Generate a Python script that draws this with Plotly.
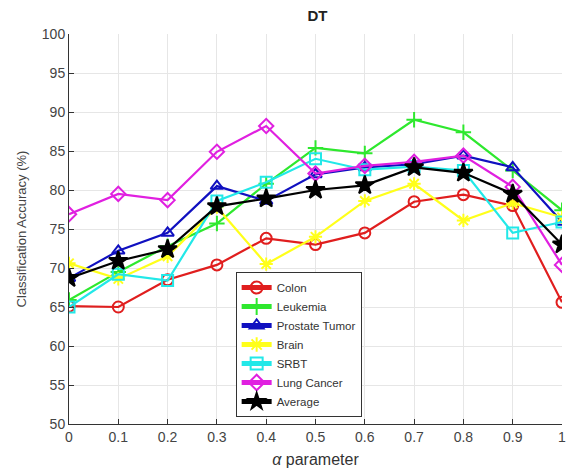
import plotly.graph_objects as go

alpha = [0, 0.1, 0.2, 0.3, 0.4, 0.5, 0.6, 0.7, 0.8, 0.9, 1.0]
colon = [65.1, 65.0, 68.5, 70.4, 73.8, 73.0, 74.5, 78.5, 79.4, 78.0, 65.6]
leukemia = [65.9, 69.5, 72.8, 75.7, 80.8, 85.4, 84.7, 89.0, 87.4, 82.5, 77.4]
prostate = [68.7, 72.2, 74.5, 80.5, 78.6, 82.0, 82.9, 83.3, 84.4, 82.9, 75.9]
brain = [70.6, 68.6, 71.5, 77.8, 70.5, 74.0, 78.6, 80.8, 76.1, 78.3, 76.5]
srbt = [65.0, 69.2, 68.4, 78.6, 81.0, 84.0, 82.6, 83.0, 82.5, 74.5, 75.9]
lung = [76.9, 79.5, 78.7, 84.9, 88.2, 82.1, 83.1, 83.6, 84.4, 80.4, 70.4]
average = [68.7, 70.9, 72.4, 77.9, 78.9, 80.0, 80.6, 82.9, 82.2, 79.5, 73.0]

x_ticks = [0, 0.1, 0.2, 0.3, 0.4, 0.5, 0.6, 0.7, 0.8, 0.9, 1]
x_labels = ["0", "0.1", "0.2", "0.3", "0.4", "0.5", "0.6", "0.7", "0.8", "0.9", "1"]
y_ticks = [50, 55, 60, 65, 70, 75, 80, 85, 90, 95, 100]

series = [
    ("Colon", colon, "#e01e1e", "circle-open"),
    ("Leukemia", leukemia, "#2ee82e", "cross-thin-open"),
    ("Prostate Tumor", prostate, "#1010c0", "triangle-up-open"),
    ("Brain", brain, "#ffff1a", "asterisk-open"),
    ("SRBT", srbt, "#22e8e8", "square-open"),
    ("Lung Cancer", lung, "#e020e0", "diamond-open"),
    ("Average", average, "#000000", "star"),
]

fig = go.Figure()
for name, vals, color, sym in series:
    fig.add_trace(go.Scatter(
        x=alpha, y=vals, name=name, mode="lines+markers",
        line=dict(color=color, width=2.2),
        marker=dict(symbol=sym, size=11 if sym != "star" else 14,
                    color=color, line=dict(color=color, width=2)),
    ))

fig.update_layout(
    width=573, height=475,
    margin=dict(l=69, r=7, t=34, b=51),
    paper_bgcolor="white", plot_bgcolor="white",
    font=dict(family="Liberation Sans, Arial, sans-serif", color="#444444", size=14),
    title=dict(text="<b>DT</b>", x=(69 + 566) / 2 / 573, xanchor="center",
               y=1 - 16 / 475, yanchor="middle",
               font=dict(size=15, color="#222222")),
    showlegend=True,
    legend=dict(
        x=(237 - 69) / 497, y=(424 - 272) / 390, xanchor="left", yanchor="top",
        bgcolor="white", bordercolor="#333333", borderwidth=1,
        font=dict(size=11.5, color="#333333"),
        tracegroupgap=0, itemsizing="constant", itemwidth=30,
    ),
    xaxis=dict(
        range=[0, 1], tickvals=x_ticks, ticktext=x_labels,
        showgrid=True, gridcolor="#e6e6e6", gridwidth=1,
        showline=True, linecolor="#333333", linewidth=1, mirror=False,
        ticks="inside", ticklen=5, tickcolor="#333333",
        zeroline=False, tickfont=dict(size=14),
        title=dict(text="<i>α</i> parameter", font=dict(size=16, color="#333333"), standoff=10),
    ),
    yaxis=dict(
        range=[50, 100], tickvals=y_ticks,
        showgrid=True, gridcolor="#e6e6e6", gridwidth=1,
        showline=True, linecolor="#333333", linewidth=1, mirror=False,
        ticks="inside", ticklen=5, tickcolor="#333333",
        zeroline=False, tickfont=dict(size=14),
        title=dict(text="Classification Accuracy (%)", font=dict(size=13, color="#444444"), standoff=12),
    ),
)

fig.write_html("out.html")
